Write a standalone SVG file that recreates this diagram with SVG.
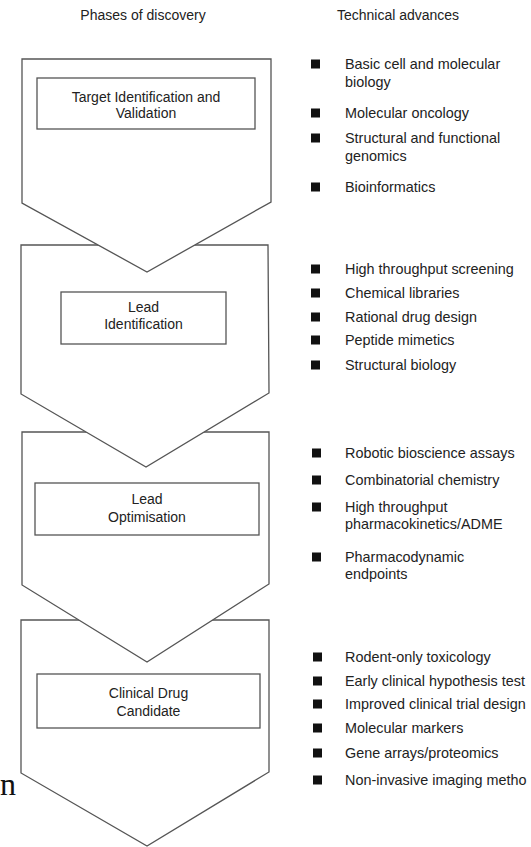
<svg xmlns="http://www.w3.org/2000/svg" width="531" height="847" viewBox="0 0 531 847">
<style>
text{font-family:"Liberation Sans",Arial,sans-serif;font-size:14px;fill:#222}
.l text{font-size:14.4px}
.c{text-anchor:middle}
.ph{fill:#fff;stroke:#555;stroke-width:1.3}
.bx{fill:#fff;stroke:#555;stroke-width:1.3}
.b{fill:#111}
.big{font-family:"Liberation Serif","Times New Roman",serif;font-size:32px;fill:#111}
</style>
<rect width="531" height="847" fill="#fff"/>
<text class="c" x="143" y="20">Phases of discovery</text>
<text class="c" x="398" y="20">Technical advances</text>
<g id="connectors"></g>
<g id="phase4">
<polygon class="ph" points="21,620 269,620 269,772 147,846 21,773"/>
<rect class="bx" x="37" y="674" width="223" height="54"/>
<text class="c" x="148.5" y="698">Clinical Drug</text>
<text class="c" x="148.5" y="716">Candidate</text>
</g>
<g id="phase3">
<polygon class="ph" points="22,432 269,432 269,584 147,662 22,585"/>
<rect class="bx" x="35" y="483" width="224" height="52"/>
<text class="c" x="147" y="504">Lead</text>
<text class="c" x="147" y="522">Optimisation</text>
</g>
<g id="phase2">
<polygon class="ph" points="21,245 268,245 269,393 146,467 21,394"/>
<rect class="bx" x="61" y="292" width="165" height="52"/>
<text class="c" x="143.5" y="312">Lead</text>
<text class="c" x="143.5" y="329">Identification</text>
</g>
<g id="phase1">
<polygon class="ph" points="22,59 271,59 271,202 147,272 22,203"/>
<rect class="bx" x="37" y="78" width="218" height="51"/>
<text class="c" x="146" y="102">Target Identification and</text>
<text class="c" x="146" y="118">Validation</text>
</g>
<g id="advances1" class="l">
<rect class="b" x="311" y="59.5" width="9" height="9"/>
<text x="345" y="69">Basic cell and molecular</text>
<text x="345" y="87">biology</text>
<rect class="b" x="311" y="108.5" width="9" height="9"/>
<text x="345" y="118">Molecular oncology</text>
<rect class="b" x="311" y="133.5" width="9" height="9"/>
<text x="345" y="143">Structural and functional</text>
<text x="345" y="161">genomics</text>
<rect class="b" x="311" y="182.5" width="9" height="9"/>
<text x="345" y="192">Bioinformatics</text>
</g>
<g id="advances2" class="l">
<rect class="b" x="311" y="264.5" width="9" height="9"/>
<text x="345" y="274">High throughput screening</text>
<rect class="b" x="311" y="288.5" width="9" height="9"/>
<text x="345" y="298">Chemical libraries</text>
<rect class="b" x="311" y="312.5" width="9" height="9"/>
<text x="345" y="322">Rational drug design</text>
<rect class="b" x="311" y="335.5" width="9" height="9"/>
<text x="345" y="345">Peptide mimetics</text>
<rect class="b" x="311" y="360.5" width="9" height="9"/>
<text x="345" y="370">Structural biology</text>
</g>
<g id="advances3" class="l">
<rect class="b" x="312" y="448.5" width="9" height="9"/>
<text x="345" y="458">Robotic bioscience assays</text>
<rect class="b" x="312" y="475.5" width="9" height="9"/>
<text x="345" y="485">Combinatorial chemistry</text>
<rect class="b" x="312" y="502.5" width="9" height="9"/>
<text x="345" y="512">High throughput</text>
<text x="345" y="529">pharmacokinetics/ADME</text>
<rect class="b" x="312" y="552.5" width="9" height="9"/>
<text x="345" y="562">Pharmacodynamic</text>
<text x="345" y="579">endpoints</text>
</g>
<g id="advances4" class="l">
<rect class="b" x="313" y="652.5" width="9" height="9"/>
<text x="345" y="662">Rodent-only toxicology</text>
<rect class="b" x="313" y="676.5" width="9" height="9"/>
<text x="345" y="686">Early clinical hypothesis test</text>
<rect class="b" x="313" y="699.5" width="9" height="9"/>
<text x="345" y="709">Improved clinical trial design</text>
<rect class="b" x="313" y="723.5" width="9" height="9"/>
<text x="345" y="733">Molecular markers</text>
<rect class="b" x="313" y="748.5" width="9" height="9"/>
<text x="345" y="758">Gene arrays/proteomics</text>
<rect class="b" x="313" y="775.5" width="9" height="9"/>
<text x="345" y="785">Non-invasive imaging metho</text>
</g>
<text class="big" x="0" y="795">n</text>
</svg>
